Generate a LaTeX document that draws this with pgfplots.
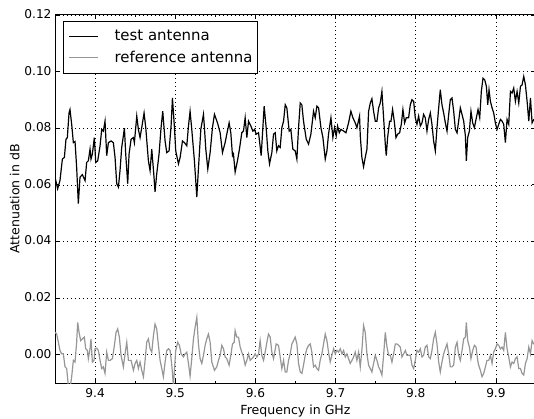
\documentclass[border=0pt]{standalone}
\usepackage{pgfplots}
\pgfplotsset{compat=1.18}
\usepackage{fontspec}
\setmainfont{DejaVu Sans}
\definecolor{refgray}{RGB}{150,150,150}
\begin{document}
\begin{tikzpicture}
\begin{axis}[
  at={(55bp,36bp)}, anchor=south west,
  scale only axis, width=481bp, height=368bp,
  xmin=9.35, xmax=9.95, ymin=-0.01, ymax=0.12,
  xtick={9.4,9.5,9.6,9.7,9.8,9.9},
  ytick={0,0.02,0.04,0.06,0.08,0.10,0.12},
  minor xtick={9.45,9.55,9.65,9.75,9.85},
  tick align=inside, major tick length=4bp, minor tick length=2.5bp,
  every tick/.style={black, line width=0.8bp},
  /pgf/number format/assume math mode=true,
  xticklabel style={/pgf/number format/fixed, /pgf/number format/fixed zerofill, /pgf/number format/precision=1, font=\fontsize{12.2}{14}\selectfont, yshift=-2bp},
  yticklabel style={/pgf/number format/fixed, /pgf/number format/fixed zerofill, /pgf/number format/precision=2, font=\fontsize{12.2}{14}\selectfont, yshift=1bp},
  scaled y ticks=false, scaled x ticks=false,
  grid=major,
  major grid style={black, line width=0.6bp, dash pattern=on 1bp off 3bp},
  axis line style={black, line width=1bp},
  xlabel={Frequency in GHz}, ylabel={Attenuation in dB},
  label style={font=\fontsize{12.6}{15}\selectfont},
  ylabel style={yshift=-2bp},
  legend style={at={(0.0166,0.9837)}, anchor=north west, draw=black, line width=0.8bp,
    font=\fontsize{15}{18}\selectfont, inner xsep=5bp, inner ysep=9bp,
    nodes={inner sep=0pt}, row sep=9bp, column sep=16bp, cells={anchor=west}},
  legend image code/.code={\path (0bp,0bp) -- (5bp,0bp); \draw[#1, line width=1.2bp] (5bp,0bp) -- (29bp,0bp);},
]
\addplot[black, line width=1.2bp] coordinates {
(9.3500,0.0627)(9.3533,0.0586)(9.3562,0.0615)(9.3592,0.0691)(9.3617,0.0697)(9.3637,0.0761)(9.3654,0.0767)(9.3675,0.0854)(9.3687,0.0866)(9.3708,0.0814)
(9.3729,0.0749)(9.3750,0.0753)(9.3770,0.0662)(9.3791,0.0534)(9.3812,0.0627)(9.3841,0.0636)(9.3875,0.0615)(9.3895,0.0679)(9.3916,0.0685)(9.3937,0.0726)
(9.3949,0.0691)(9.3966,0.0709)(9.3991,0.0767)(9.4008,0.0679)(9.4033,0.0685)(9.4062,0.0738)(9.4083,0.0796)(9.4103,0.0790)(9.4124,0.0825)(9.4145,0.0703)
(9.4166,0.0749)(9.4199,0.0755)(9.4228,0.0749)(9.4249,0.0697)(9.4270,0.0604)(9.4291,0.0592)(9.4311,0.0650)(9.4332,0.0732)(9.4366,0.0800)(9.4382,0.0709)
(9.4407,0.0604)(9.4424,0.0709)(9.4449,0.0761)(9.4478,0.0767)(9.4490,0.0749)(9.4511,0.0814)(9.4520,0.0843)(9.4540,0.0796)(9.4561,0.0767)(9.4582,0.0802)
(9.4611,0.0854)(9.4632,0.0802)(9.4665,0.0685)(9.4686,0.0650)(9.4707,0.0726)(9.4732,0.0639)(9.4748,0.0575)(9.4769,0.0639)(9.4798,0.0709)(9.4823,0.0802)
(9.4844,0.0860)(9.4873,0.0755)(9.4894,0.0714)(9.4923,0.0720)(9.4948,0.0808)(9.4965,0.0907)(9.4990,0.0802)(9.5006,0.0720)(9.5040,0.0674)(9.5061,0.0697)
(9.5090,0.0755)(9.5115,0.0749)(9.5144,0.0738)(9.5165,0.0808)(9.5185,0.0860)(9.5206,0.0796)(9.5239,0.0685)(9.5269,0.0557)(9.5289,0.0656)(9.5319,0.0796)
(9.5352,0.0849)(9.5364,0.0802)(9.5381,0.0726)(9.5406,0.0656)(9.5435,0.0714)(9.5464,0.0802)(9.5489,0.0849)(9.5527,0.0819)(9.5560,0.0784)(9.5589,0.0714)
(9.5622,0.0749)(9.5643,0.0779)(9.5672,0.0819)(9.5693,0.0784)(9.5714,0.0703)(9.5726,0.0709)(9.5747,0.0645)(9.5776,0.0685)(9.5801,0.0726)(9.5830,0.0784)
(9.5851,0.0790)(9.5872,0.0837)(9.5893,0.0767)(9.5914,0.0825)(9.5943,0.0808)(9.5968,0.0790)(9.5989,0.0796)(9.6009,0.0779)(9.6039,0.0784)(9.6072,0.0703)
(9.6109,0.0878)(9.6134,0.0802)(9.6155,0.0720)(9.6176,0.0674)(9.6205,0.0714)(9.6226,0.0779)(9.6247,0.0784)(9.6267,0.0720)(9.6288,0.0738)(9.6309,0.0732)
(9.6330,0.0802)(9.6351,0.0825)(9.6372,0.0883)(9.6392,0.0872)(9.6421,0.0790)(9.6442,0.0796)(9.6467,0.0726)(9.6496,0.0720)(9.6517,0.0691)(9.6538,0.0802)
(9.6559,0.0889)(9.6579,0.0883)(9.6600,0.0825)(9.6634,0.0761)(9.6663,0.0744)(9.6692,0.0779)(9.6725,0.0860)(9.6746,0.0837)(9.6767,0.0878)(9.6788,0.0872)
(9.6817,0.0802)(9.6842,0.0767)(9.6871,0.0691)(9.6892,0.0720)(9.6912,0.0779)(9.6942,0.0837)(9.6966,0.0767)(9.6987,0.0802)(9.7008,0.0773)(9.7025,0.0808)
(9.7046,0.0784)(9.7066,0.0796)(9.7100,0.0790)(9.7129,0.0784)(9.7162,0.0819)(9.7191,0.0860)(9.7216,0.0837)(9.7245,0.0819)(9.7266,0.0802)(9.7299,0.0843)
(9.7308,0.0773)(9.7328,0.0697)(9.7349,0.0664)(9.7370,0.0697)(9.7391,0.0726)(9.7412,0.0860)(9.7433,0.0889)(9.7453,0.0904)(9.7474,0.0860)(9.7495,0.0825)
(9.7516,0.0825)(9.7537,0.0872)(9.7557,0.0889)(9.7578,0.0930)(9.7599,0.0837)(9.7620,0.0744)(9.7632,0.0703)(9.7649,0.0767)(9.7674,0.0825)(9.7691,0.0825)
(9.7711,0.0866)(9.7732,0.0825)(9.7753,0.0767)(9.7774,0.0779)(9.7799,0.0784)(9.7820,0.0814)(9.7840,0.0866)(9.7861,0.0819)(9.7882,0.0837)(9.7911,0.0837)
(9.7932,0.0883)(9.7953,0.0901)(9.7974,0.0895)(9.7994,0.0837)(9.8015,0.0814)(9.8036,0.0843)(9.8057,0.0808)(9.8078,0.0819)(9.8098,0.0849)(9.8119,0.0837)
(9.8140,0.0790)(9.8161,0.0831)(9.8182,0.0854)(9.8202,0.0814)(9.8223,0.0755)(9.8244,0.0720)(9.8265,0.0802)(9.8286,0.0872)(9.8306,0.0936)(9.8327,0.0883)
(9.8348,0.0854)(9.8369,0.0819)(9.8390,0.0790)(9.8411,0.0849)(9.8431,0.0901)(9.8452,0.0907)(9.8473,0.0860)(9.8494,0.0796)(9.8515,0.0784)(9.8535,0.0825)
(9.8556,0.0872)(9.8577,0.0849)(9.8598,0.0825)(9.8619,0.0773)(9.8631,0.0685)(9.8648,0.0767)(9.8669,0.0790)(9.8689,0.0860)(9.8710,0.0819)(9.8731,0.0802)
(9.8756,0.0837)(9.8777,0.0866)(9.8798,0.0837)(9.8818,0.0930)(9.8839,0.0977)(9.8860,0.0971)(9.8881,0.0948)(9.8898,0.0883)(9.8914,0.0936)(9.8931,0.0895)
(9.8952,0.0872)(9.8972,0.0854)(9.8993,0.0819)(9.9014,0.0796)(9.9035,0.0814)(9.9056,0.0831)(9.9077,0.0825)(9.9097,0.0814)(9.9118,0.0749)(9.9139,0.0831)
(9.9160,0.0814)(9.9181,0.0930)(9.9201,0.0924)(9.9222,0.0942)(9.9243,0.0895)(9.9264,0.0930)(9.9285,0.0889)(9.9306,0.0948)(9.9326,0.0953)(9.9347,0.0983)
(9.9368,0.0953)(9.9389,0.0895)(9.9410,0.0825)(9.9431,0.0907)(9.9451,0.0819)(9.9472,0.0831)(9.9500,0.0830)
};
\addlegendentry{test antenna}
\addplot[refgray, line width=1.2bp] coordinates {
(9.3500,0.0079)(9.3521,0.0073)(9.3542,0.0044)(9.3562,0.0015)(9.3583,0.0003)(9.3604,0.0003)(9.3625,-0.0043)(9.3646,-0.0049)(9.3666,-0.0110)(9.3687,-0.0120)
(9.3708,-0.0078)(9.3729,-0.0020)(9.3750,-0.0026)(9.3770,0.0044)(9.3783,0.0114)(9.3800,0.0079)(9.3820,0.0050)(9.3841,0.0056)(9.3866,0.0062)(9.3883,0.0021)
(9.3904,0.0015)(9.3916,-0.0014)(9.3937,0.0021)(9.3949,0.0056)(9.3966,-0.0026)(9.3987,-0.0020)(9.3999,0.0021)(9.4020,0.0023)(9.4041,0.0015)(9.4062,-0.0020)
(9.4083,-0.0049)(9.4103,-0.0043)(9.4124,-0.0066)(9.4145,0.0009)(9.4166,-0.0020)(9.4187,-0.0020)(9.4216,-0.0014)(9.4241,0.0033)(9.4262,0.0079)(9.4282,0.0091)
(9.4303,0.0062)(9.4324,-0.0002)(9.4353,-0.0043)(9.4374,0.0003)(9.4395,0.0044)(9.4416,-0.0020)(9.4449,-0.0020)(9.4478,-0.0055)(9.4499,-0.0031)(9.4520,-0.0020)
(9.4540,-0.0049)(9.4561,-0.0026)(9.4582,-0.0055)(9.4603,-0.0078)(9.4624,-0.0020)(9.4644,0.0044)(9.4665,0.0056)(9.4686,0.0021)(9.4707,0.0009)(9.4728,0.0068)
(9.4748,0.0108)(9.4769,0.0091)(9.4790,0.0033)(9.4811,-0.0020)(9.4832,-0.0049)(9.4852,-0.0078)(9.4873,-0.0026)(9.4894,0.0015)(9.4915,0.0021)(9.4936,0.0015)
(9.4957,-0.0037)(9.4977,-0.0110)(9.5006,0.0015)(9.5031,0.0044)(9.5052,0.0033)(9.5073,0.0003)(9.5102,-0.0008)(9.5123,0.0003)(9.5144,0.0009)(9.5165,-0.0031)
(9.5185,-0.0076)(9.5206,-0.0014)(9.5227,0.0056)(9.5248,0.0097)(9.5269,0.0132)(9.5289,0.0038)(9.5310,-0.0014)(9.5331,-0.0031)(9.5352,-0.0002)(9.5373,0.0033)
(9.5393,0.0056)(9.5414,0.0073)(9.5435,0.0044)(9.5456,-0.0026)(9.5489,-0.0055)(9.5518,-0.0043)(9.5539,-0.0020)(9.5560,-0.0002)(9.5581,0.0033)(9.5602,0.0021)
(9.5622,-0.0008)(9.5643,-0.0014)(9.5672,-0.0037)(9.5693,-0.0002)(9.5714,0.0038)(9.5735,0.0044)(9.5747,0.0085)(9.5768,0.0062)(9.5789,0.0062)(9.5810,0.0027)
(9.5830,0.0009)(9.5851,-0.0008)(9.5872,-0.0037)(9.5893,-0.0020)(9.5914,0.0003)(9.5935,-0.0020)(9.5955,-0.0014)(9.5976,-0.0008)(9.5997,0.0003)(9.6018,-0.0008)
(9.6039,0.0003)(9.6059,0.0050)(9.6080,-0.0002)(9.6101,-0.0020)(9.6122,0.0009)(9.6143,0.0044)(9.6163,0.0073)(9.6184,0.0062)(9.6205,0.0009)(9.6226,-0.0014)
(9.6259,0.0038)(9.6288,0.0033)(9.6309,-0.0008)(9.6330,-0.0049)(9.6351,-0.0020)(9.6372,-0.0061)(9.6392,-0.0061)(9.6413,-0.0020)(9.6434,0.0003)(9.6455,0.0038)
(9.6476,0.0050)(9.6496,0.0062)(9.6517,0.0038)(9.6538,-0.0031)(9.6559,-0.0061)(9.6580,-0.0066)(9.6600,-0.0037)(9.6621,-0.0002)(9.6642,0.0021)(9.6663,0.0033)
(9.6684,0.0038)(9.6704,0.0009)(9.6725,-0.0043)(9.6746,-0.0037)(9.6767,-0.0049)(9.6788,-0.0055)(9.6808,-0.0020)(9.6829,0.0003)(9.6850,0.0038)(9.6871,0.0073)
(9.6892,0.0050)(9.6912,0.0009)(9.6933,-0.0026)(9.6954,-0.0002)(9.6975,0.0021)(9.6996,0.0003)(9.7016,0.0015)(9.7037,0.0009)(9.7058,0.0021)(9.7079,0.0003)
(9.7100,0.0015)(9.7121,-0.0008)(9.7141,0.0003)(9.7162,-0.0014)(9.7183,-0.0031)(9.7204,-0.0020)(9.7225,-0.0008)(9.7245,0.0009)(9.7266,-0.0020)(9.7287,0.0009)
(9.7308,-0.0043)(9.7328,0.0015)(9.7349,0.0103)(9.7370,0.0079)(9.7391,0.0003)(9.7412,-0.0037)(9.7433,-0.0049)(9.7453,-0.0061)(9.7474,-0.0031)(9.7495,-0.0002)
(9.7516,-0.0020)(9.7537,-0.0043)(9.7557,-0.0055)(9.7578,-0.0072)(9.7599,-0.0002)(9.7620,0.0079)(9.7641,0.0027)(9.7662,-0.0002)(9.7682,-0.0002)(9.7703,-0.0026)
(9.7724,0.0003)(9.7745,0.0038)(9.7766,0.0038)(9.7786,0.0033)(9.7807,0.0027)(9.7828,-0.0008)(9.7849,0.0003)(9.7870,0.0015)(9.7890,-0.0002)(9.7911,-0.0002)
(9.7932,-0.0002)(9.7953,-0.0037)(9.7974,-0.0049)(9.7994,-0.0020)(9.8015,0.0015)(9.8036,0.0009)(9.8057,0.0021)(9.8078,-0.0008)(9.8098,-0.0002)(9.8119,0.0027)
(9.8140,0.0033)(9.8161,-0.0008)(9.8182,-0.0014)(9.8202,0.0015)(9.8223,0.0056)(9.8244,0.0079)(9.8265,0.0038)(9.8286,-0.0026)(9.8306,-0.0061)(9.8327,-0.0026)
(9.8348,0.0003)(9.8369,0.0021)(9.8390,0.0038)(9.8411,0.0003)(9.8431,-0.0043)(9.8452,-0.0043)(9.8473,-0.0037)(9.8494,0.0027)(9.8515,0.0044)(9.8535,-0.0002)
(9.8556,-0.0020)(9.8577,0.0015)(9.8598,0.0056)(9.8619,0.0062)(9.8631,0.0114)(9.8648,0.0050)(9.8669,0.0027)(9.8689,-0.0014)(9.8710,0.0015)(9.8731,0.0033)
(9.8752,0.0027)(9.8773,-0.0020)(9.8785,-0.0037)(9.8806,-0.0055)(9.8827,-0.0078)(9.8848,-0.0066)(9.8869,-0.0043)(9.8889,-0.0020)(9.8910,-0.0020)(9.8931,-0.0002)
(9.8952,-0.0031)(9.8972,0.0009)(9.8993,0.0021)(9.9014,0.0038)(9.9035,0.0033)(9.9056,0.0021)(9.9077,0.0027)(9.9097,0.0015)(9.9118,0.0079)(9.9139,0.0021)
(9.9160,-0.0008)(9.9181,-0.0043)(9.9201,-0.0026)(9.9222,-0.0031)(9.9243,-0.0014)(9.9264,-0.0008)(9.9285,-0.0049)(9.9306,-0.0049)(9.9326,-0.0066)(9.9347,-0.0072)
(9.9368,-0.0031)(9.9389,-0.0014)(9.9410,0.0027)(9.9431,0.0003)(9.9451,0.0050)(9.9472,0.0038)(9.9500,0.0035)
};
\addlegendentry{reference antenna}
\end{axis}
\pgfresetboundingbox
\useasboundingbox (0,0) rectangle (534bp,419bp);
\end{tikzpicture}
\end{document}
